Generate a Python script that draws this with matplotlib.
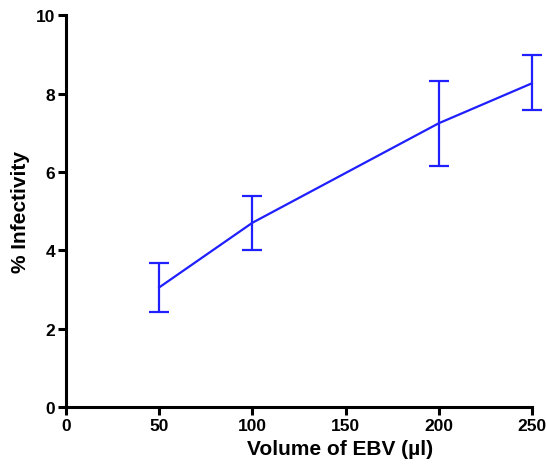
import matplotlib
matplotlib.use("Agg")
import matplotlib.pyplot as plt

# data
volume = [50, 100, 200, 250]
infectivity = [3.05, 4.70, 7.24, 8.26]
err_low = [0.62, 0.70, 1.09, 0.68]
err_high = [0.62, 0.68, 1.09, 0.73]

x_ticks = [0, 50, 100, 150, 200, 250]
y_ticks = [0, 2, 4, 6, 8, 10]

plt.rcParams['font.family'] = ['Liberation Sans', 'DejaVu Sans']
plt.rcParams['font.weight'] = 'bold'

fig = plt.figure(figsize=(5.46, 4.77), dpi=100)
ax = fig.add_axes([0.121, 0.145, 0.853, 0.821])

line, caps, bars = ax.errorbar(volume, infectivity, yerr=[err_low, err_high],
                               color='#1f1fff', linewidth=1.6, elinewidth=1.6,
                               capsize=7, capthick=1.6)
# let the last cap hang over the right edge like the original
for art in [line, *caps, *bars]:
    art.set_clip_on(False)

ax.set_xlim(0, 250)
ax.set_ylim(0, 10)
ax.set_xticks(x_ticks)
ax.set_yticks(y_ticks)

for side in ['top', 'right']:
    ax.spines[side].set_visible(False)
for side in ['left', 'bottom']:
    ax.spines[side].set_linewidth(2.2)
ax.tick_params(width=2.2, length=6, labelsize=12.5, pad=2)
for lbl in ax.get_xticklabels() + ax.get_yticklabels():
    lbl.set_fontweight('bold')

ax.set_xlabel('Volume of EBV (µl)', fontsize=15, fontweight='bold', x=0.588)
ax.set_ylabel('% Infectivity', fontsize=15, fontweight='bold')

fig.savefig('out.png', dpi=100)
